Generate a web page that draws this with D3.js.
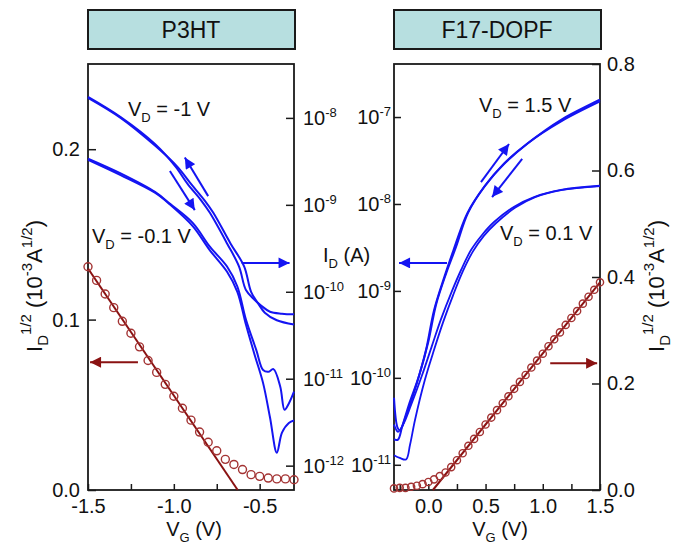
<!DOCTYPE html>
<html><head><meta charset="utf-8">
<script src="https://cdn.jsdelivr.net/npm/d3@7"></script>
<style>
body{margin:0;background:#fff}
svg{display:block}
text{font-family:"Liberation Sans",Arial,Helvetica,sans-serif;fill:#111}
</style>
</head><body>
<svg id="c" width="673" height="545"></svg>
<script>
// ---------------- DATA ----------------
// P3HT transfer (left panel)
const p3htVG = [-1.5,-1.45,-1.4,-1.35,-1.3,-1.25,-1.2,-1.15,-1.1,-1.05,-1.0,-0.95,-0.9,-0.85,-0.8,-0.75,-0.7,-0.65,-0.6,-0.55,-0.5,-0.45,-0.4,-0.35,-0.3];
const p3htSqrtID = [0.131,0.123,0.115,0.107,0.099,0.092,0.084,0.076,0.069,0.062,0.055,0.048,0.041,0.034,0.028,0.023,0.018,0.015,0.012,0.009,0.008,0.007,0.0065,0.0065,0.006];
const p3htFitVG = [-1.5,-0.628];
const p3htFitVal = [0.13,0];
const p3htVDm1fwdVG = [-1.5,-1.31,-1.11,-0.99,-0.92,-0.84,-0.79,-0.69,-0.62,-0.58,-0.53,-0.49,-0.44,-0.37,-0.3];
const p3htVDm1fwdID = [1.74e-8,1.02e-8,5.0e-9,2.75e-9,1.74e-9,1.12e-9,8.1e-10,3.6e-10,1.95e-10,1.05e-10,8.1e-11,6.9e-11,5.9e-11,5.6e-11,5.5e-11];
const p3htVDm1revVG = [-1.5,-1.31,-1.11,-0.98,-0.9,-0.82,-0.77,-0.67,-0.59,-0.55,-0.51,-0.47,-0.4,-0.3];
const p3htVDm1revID = [1.70e-8,1.0e-8,4.8e-9,2.75e-9,1.74e-9,1.12e-9,8.1e-10,3.6e-10,1.95e-10,1.0e-10,7.4e-11,5.75e-11,4.7e-11,4.2e-11];
const p3htVDm01aVG = [-1.5,-1.31,-1.11,-1.02,-0.89,-0.79,-0.69,-0.63,-0.58,-0.52,-0.48,-0.45,-0.42,-0.38,-0.355,-0.33,-0.3];
const p3htVDm01aID = [3.4e-9,2.3e-9,1.41e-9,1.02e-9,6.2e-10,3.3e-10,1.95e-10,1.15e-10,4.8e-11,2.15e-11,1.26e-11,1.2e-11,1.29e-11,8.1e-12,4.4e-12,5.2e-12,7.1e-12];
const p3htVDm01bVG = [-1.5,-1.31,-1.11,-1.02,-0.89,-0.79,-0.69,-0.63,-0.58,-0.53,-0.48,-0.44,-0.40,-0.37,-0.33,-0.3];
const p3htVDm01bID = [3.3e-9,2.2e-9,1.38e-9,1.0e-9,5.7e-10,3.0e-10,1.7e-10,1.0e-10,4.2e-11,1.9e-11,8.9e-12,3.6e-12,1.41e-12,2.4e-12,3.1e-12,3.3e-12];

// F17-DOPF transfer (right panel)
const f17VG = [-0.3,-0.25,-0.2,-0.15,-0.1,-0.05,0.0,0.05,0.1,0.15,0.2,0.25,0.3,0.35,0.4,0.45,0.5,0.55,0.6,0.65,0.7,0.75,0.8,0.85,0.9,0.95,1.0,1.05,1.1,1.15,1.2,1.25,1.3,1.35,1.4,1.45,1.5];
const f17SqrtID = [0.003,0.004,0.004,0.006,0.008,0.011,0.015,0.020,0.026,0.033,0.043,0.056,0.069,0.083,0.096,0.109,0.123,0.136,0.150,0.163,0.176,0.190,0.203,0.216,0.230,0.243,0.256,0.270,0.283,0.296,0.310,0.323,0.336,0.350,0.363,0.376,0.390];
const f17FitVG = [0.04,1.5];
const f17FitVal = [0,0.39];
const f17VD15aVG = [-0.3,-0.27,-0.25,-0.2,-0.1,-0.02,0.05,0.14,0.22,0.34,0.49,0.66,0.86,1.16,1.5];
const f17VD15aID = [5.9e-11,2.7e-11,2.5e-11,3.5e-11,8.7e-11,2.1e-10,6.0e-10,1.45e-9,2.95e-9,7.8e-9,1.58e-8,2.9e-8,4.9e-8,8.9e-8,1.51e-7];
const f17VD15bVG = [-0.3,-0.265,-0.23,-0.17,-0.08,0.0,0.067,0.155,0.242,0.347,0.495,0.67,0.87,1.16,1.5];
const f17VD15bID = [1.95e-11,1.95e-11,2.7e-11,4.9e-11,1.07e-10,2.6e-10,6.9e-10,1.58e-9,3.2e-9,7.9e-9,1.62e-8,2.95e-8,5.0e-8,9.3e-8,1.58e-7];
const f17VD01aVG = [-0.3,-0.265,-0.22,-0.15,-0.055,0.03,0.11,0.2,0.286,0.373,0.469,0.574,0.75,0.924,1.16,1.5];
const f17VD01aID = [2.9e-11,2.4e-11,2.9e-11,4.9e-11,1.07e-10,2.3e-10,4.7e-10,9.5e-10,1.74e-9,2.95e-9,4.4e-9,6.2e-9,9.3e-9,1.2e-8,1.45e-8,1.62e-8];
const f17VD01bVG = [-0.3,-0.25,-0.195,-0.16,-0.116,-0.03,0.05,0.13,0.216,0.303,0.39,0.485,0.59,0.76,0.933,1.16,1.5];
const f17VD01bID = [1.29e-11,1.2e-11,1.15e-11,1.7e-11,3.3e-11,9.5e-11,2.1e-10,4.4e-10,8.9e-10,1.7e-9,2.85e-9,4.3e-9,6.0e-9,9.1e-9,1.2e-8,1.44e-8,1.6e-8];

// tick values
const p3htXTicks = [-1.5,-1.25,-1.0,-0.75,-0.5];
const p3htSqrtTicks = [0.0,0.1,0.2];
const p3htLogTicks = [1e-12,1e-11,1e-10,1e-9,1e-8];
const f17XTicks = [-0.25,0.0,0.25,0.5,0.75,1.0,1.25,1.5];
const f17SqrtTicks = [0.0,0.2,0.4,0.6,0.8];
const f17LogTicks = [1e-11,1e-10,1e-9,1e-8,1e-7];

// ---------------- LAYOUT ----------------
const BLUE = "#1414f2", RED = "#8a1212", CIRC = "#a33333";
const svg = d3.select("#c");
const PL = {x0:88,x1:294,y0:64,y1:490};
const PR = {x0:394,x1:600,y0:64,y1:490};

const xL = d3.scaleLinear([-1.5,-0.3],[PL.x0,PL.x1]);
const ySqL = d3.scaleLinear([0,0.25],[PL.y1,PL.y0]);
const yLogL = d3.scaleLog([Math.pow(10,-12.28),Math.pow(10,-7.38)],[PL.y1,PL.y0]);
const xR = d3.scaleLinear([-0.3,1.5],[PR.x0,PR.x1]);
const ySqR = d3.scaleLinear([0,0.8],[PR.y1,PR.y0]);
const yLogR = d3.scaleLog([Math.pow(10,-11.29),Math.pow(10,-6.39)],[PR.y1,PR.y0]);

// markers
const defs = svg.append("defs");
function marker(id,color){
  defs.append("marker").attr("id",id).attr("viewBox","0 0 10 10")
    .attr("refX",10).attr("refY",5).attr("markerWidth",13).attr("markerHeight",11)
    .attr("markerUnits","userSpaceOnUse").attr("orient","auto")
    .append("path").attr("d","M0,0 L10,5 L0,10 z").attr("fill",color);
}
marker("ab",BLUE); marker("ar",RED);

// titles
function title(P,txt){
  svg.append("rect").attr("x",P.x0).attr("y",10).attr("width",P.x1-P.x0+1).attr("height",39)
    .attr("fill","#b7dfe0").attr("stroke","#1a1a1a").attr("stroke-width",2);
  svg.append("text").attr("x",(P.x0+P.x1)/2).attr("y",38).attr("text-anchor","middle")
    .attr("font-size",23).text(txt);
}
title(PL,"P3HT"); title(PR,"F17-DOPF");

const fmt1 = d => (Math.abs(d*2 - Math.round(d*2))<1e-9) ? d.toFixed(1) : "";
function styleAxis(g){
  g.select(".domain").remove();
  g.selectAll(".tick line").attr("stroke","#1a1a1a").attr("stroke-width",1.5);
  g.selectAll(".tick text").attr("font-size",20).attr("fill","#111")
    .attr("font-family",'"Liberation Sans",Arial,sans-serif');
}
function logLabels(g){
  g.selectAll(".tick text").each(function(d){
    const t = d3.select(this); t.text("");
    t.append("tspan").text("10");
    t.append("tspan").attr("dy",-8).attr("font-size",13).text(String(Math.round(Math.log10(d))));
  });
}

// axes left panel
svg.append("g").attr("transform",`translate(0,${PL.y1})`)
  .call(d3.axisBottom(xL).tickValues(p3htXTicks).tickFormat(fmt1).tickSizeInner(-6).tickSizeOuter(0).tickPadding(9))
  .call(styleAxis);
svg.append("g").attr("transform",`translate(${PL.x0},0)`)
  .call(d3.axisLeft(ySqL).tickValues(p3htSqrtTicks).tickFormat(d=>d.toFixed(1)).tickSizeInner(-8).tickSizeOuter(0).tickPadding(8))
  .call(styleAxis);
svg.append("g").attr("transform",`translate(${PL.x1},0)`)
  .call(d3.axisRight(yLogL).tickValues(p3htLogTicks).tickSizeInner(-8).tickSizeOuter(0).tickPadding(9))
  .call(styleAxis).call(logLabels);

// axes right panel
svg.append("g").attr("transform",`translate(0,${PR.y1})`)
  .call(d3.axisBottom(xR).tickValues(f17XTicks).tickFormat(fmt1).tickSizeInner(-6).tickSizeOuter(0).tickPadding(9))
  .call(styleAxis);
svg.append("g").attr("transform",`translate(${PR.x0},0)`)
  .call(d3.axisLeft(yLogR).tickValues(f17LogTicks).tickSizeInner(-7).tickSizeOuter(0).tickPadding(3))
  .call(styleAxis).call(logLabels);
svg.append("g").attr("transform",`translate(${PR.x1},0)`)
  .call(d3.axisRight(ySqR).tickValues(f17SqrtTicks).tickFormat(d=>d.toFixed(1)).tickSizeInner(-8).tickSizeOuter(0).tickPadding(7))
  .call(styleAxis);

// frames
[PL,PR].forEach(P=>{
  svg.append("rect").attr("x",P.x0).attr("y",P.y0).attr("width",P.x1-P.x0).attr("height",P.y1-P.y0)
    .attr("fill","none").attr("stroke","#1a1a1a").attr("stroke-width",1.8);
});

// curves
function curve(xs,ys,xScale,yScale,color,w){
  const pts = xs.map((x,i)=>[xScale(x),yScale(ys[i])]);
  svg.append("path").attr("d",d3.line().curve(d3.curveCatmullRom.alpha(0.5))(pts))
    .attr("fill","none").attr("stroke",color).attr("stroke-width",w).attr("stroke-linejoin","round");
}
curve(p3htVDm1fwdVG,p3htVDm1fwdID,xL,yLogL,BLUE,2);
curve(p3htVDm1revVG,p3htVDm1revID,xL,yLogL,BLUE,2);
curve(p3htVDm01aVG,p3htVDm01aID,xL,yLogL,BLUE,2);
curve(p3htVDm01bVG,p3htVDm01bID,xL,yLogL,BLUE,2);
curve(f17VD15aVG,f17VD15aID,xR,yLogR,BLUE,2);
curve(f17VD15bVG,f17VD15bID,xR,yLogR,BLUE,2);
curve(f17VD01aVG,f17VD01aID,xR,yLogR,BLUE,1.8);
curve(f17VD01bVG,f17VD01bID,xR,yLogR,BLUE,1.8);

// fits
function fit(xs,ys,xScale,yScale){
  svg.append("line").attr("x1",xScale(xs[0])).attr("y1",yScale(ys[0]))
    .attr("x2",xScale(xs[1])).attr("y2",yScale(ys[1]))
    .attr("stroke",RED).attr("stroke-width",2);
}
fit(p3htFitVG,p3htFitVal,xL,ySqL);
fit(f17FitVG,f17FitVal,xR,ySqR);

// circles
function circles(xs,ys,xScale,yScale,r){
  svg.append("g").selectAll("circle").data(xs).join("circle")
    .attr("cx",d=>xScale(d)).attr("cy",(d,i)=>yScale(ys[i])).attr("r",r)
    .attr("fill","none").attr("stroke",CIRC).attr("stroke-width",1.4);
}
circles(p3htVG,p3htSqrtID,xL,ySqL,4);
circles(f17VG,f17SqrtID,xR,ySqR,3.6);

// arrows
function arrow(x1,y1,x2,y2,color,m){
  svg.append("line").attr("x1",x1).attr("y1",y1).attr("x2",x2).attr("y2",y2)
    .attr("stroke",color).attr("stroke-width",2).attr("marker-end",`url(#${m})`);
}
arrow(xL(-0.80),yLogL(1.26e-9),xL(-0.936),yLogL(3.5e-9),BLUE,"ab");
arrow(xL(-1.023),yLogL(2.45e-9),xL(-0.878),yLogL(8.7e-10),BLUE,"ab");
arrow(xL(-0.605),yLogL(2.15e-10),xL(-0.326),yLogL(2.15e-10),BLUE,"ab");
arrow(xL(-1.209),ySqL(0.075),xL(-1.488),ySqL(0.075),RED,"ar");
arrow(xR(0.46),yLogR(1.78e-8),xR(0.705),yLogR(4.9e-8),BLUE,"ab");
arrow(xR(0.82),yLogR(3.3e-8),xR(0.557),yLogR(1.2e-8),BLUE,"ab");
arrow(xR(0.163),yLogR(2.1e-9),xR(-0.256),yLogR(2.1e-9),BLUE,"ab");
arrow(xR(1.065),ySqR(0.238),xR(1.475),ySqR(0.238),RED,"ar");

// text labels
function vdLabel(x,y,val){
  const t = svg.append("text").attr("x",x).attr("y",y).attr("font-size",20);
  t.append("tspan").text("V");
  t.append("tspan").attr("dy",6).attr("font-size",13).text("D");
  t.append("tspan").attr("dy",-6).text(" = " + val);
}
vdLabel(128,116,"-1 V");
vdLabel(92,243,"-0.1 V");
vdLabel(479,112,"1.5 V");
vdLabel(500,240,"0.1 V");

function xLabel(cx){
  const t = svg.append("text").attr("x",cx).attr("y",536).attr("font-size",20).attr("text-anchor","middle");
  t.append("tspan").text("V");
  t.append("tspan").attr("dy",6).attr("font-size",13).text("G");
  t.append("tspan").attr("dy",-6).text(" (V)");
}
xLabel(194); xLabel(500);

function yLabel(x,cy){
  const t = svg.append("text").attr("transform",`translate(${x},${cy}) rotate(-90)`)
    .attr("font-size",22).attr("text-anchor","middle");
  t.append("tspan").text("I");
  t.append("tspan").attr("dy",6).attr("font-size",15).text("D");
  t.append("tspan").attr("dy",-17).attr("font-size",15).text("1/2");
  t.append("tspan").attr("dy",11).text(" (10");
  t.append("tspan").attr("dy",-10).attr("font-size",15).text("-3");
  t.append("tspan").attr("dy",10).text("A");
  t.append("tspan").attr("dy",-10).attr("font-size",15).text("1/2");
  t.append("tspan").attr("dy",10).text(")");
}
yLabel(42,286);
yLabel(664,286);

const idl = svg.append("text").attr("x",323).attr("y",262).attr("font-size",20);
idl.append("tspan").text("I");
idl.append("tspan").attr("dy",6).attr("font-size",13).text("D");
idl.append("tspan").attr("dy",-6).text(" (A)");
</script>
</body></html>
